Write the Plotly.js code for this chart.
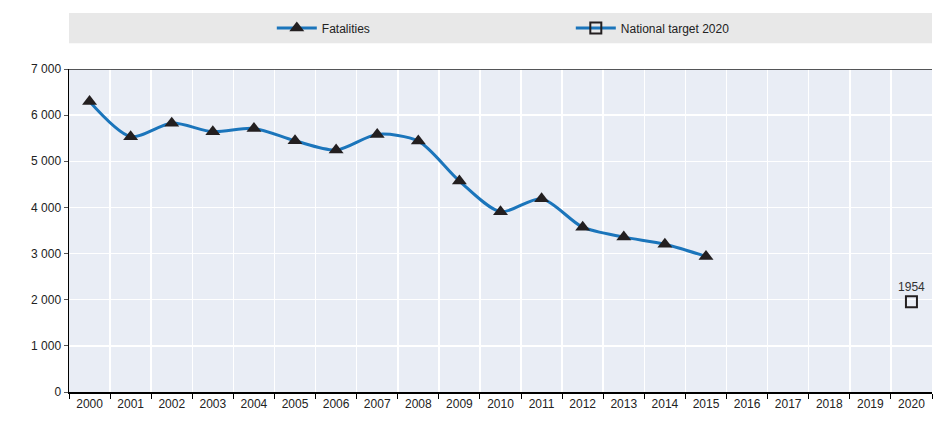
<!DOCTYPE html>
<html>
<head>
<meta charset="utf-8">
<script src="https://cdn.plot.ly/plotly-3.0.1.min.js"></script>
<style>
  body { margin: 0; background: #fff; }
  #chart { width: 952px; height: 425px; }
</style>
</head>
<body>
<div id="chart"></div>
<script>
// Road fatalities, 2000-2015, and the 2020 target
var years = ['2000','2001','2002','2003','2004','2005','2006','2007','2008','2009',
             '2010','2011','2012','2013','2014','2015','2016','2017','2018','2019','2020'];
var fatalYears = years.slice(0, 16);
var fatalities = [6294, 5534, 5827, 5640, 5712, 5444, 5243, 5583, 5437, 4572,
                  3907, 4189, 3571, 3357, 3202, 2938];
var targetYears = ['2020'];
var targetValues = [1954];

var font = 'Liberation Sans Narrow, Arial Narrow, Liberation Sans, Arial, sans-serif';

// empty trace so every year shows on the category axis
var allYears = {
  x: years,
  y: years.map(function () { return null; }),
  type: 'scatter', mode: 'markers',
  showlegend: false, hoverinfo: 'skip'
};

var fatal = {
  x: fatalYears,
  y: fatalities,
  name: 'Fatalities',
  type: 'scatter',
  mode: 'lines+markers',
  line: {color: '#1b75bb', width: 3, shape: 'spline', smoothing: 0.8},
  marker: {symbol: 'triangle-up', size: 13, color: '#231f20'},
  cliponaxis: false
};

var target = {
  x: targetYears,
  y: targetValues,
  name: 'National target 2020',
  type: 'scatter',
  mode: 'lines+markers+text',
  text: targetValues.map(String),
  textposition: 'top center',
  textfont: {family: font, size: 12, color: '#333'},
  line: {color: '#1b75bb', width: 3},
  marker: {symbol: 'square-open', size: 11, color: '#231f20', line: {width: 2}}
};

var layout = {
  width: 952, height: 425,
  margin: {l: 69, r: 20, t: 69, b: 33},
  paper_bgcolor: '#ffffff',
  plot_bgcolor: '#e9edf5',
  separators: ', ',
  font: {family: font, size: 12, color: '#222'},
  showlegend: true,
  legend: {
    orientation: 'h', x: 0.235, xanchor: 'left', y: 1.127, yanchor: 'middle',
    bgcolor: 'rgba(0,0,0,0)', entrywidth: 244, entrywidthmode: 'pixels',
    font: {family: font, size: 12, color: '#222'}, itemwidth: 40
  },
  xaxis: {
    type: 'category', range: [-0.5, 20.5],
    categoryorder: 'array', categoryarray: years,
    tickson: 'boundaries', ticks: 'outside', ticklen: 5, tickcolor: '#000',
    showgrid: true, gridcolor: '#ffffff', gridwidth: 1.5,
    showline: true, linecolor: '#000', linewidth: 2,
    tickfont: {family: font, size: 12, color: '#222'},
    fixedrange: true
  },
  yaxis: {
    range: [0, 7000], dtick: 1000, tickformat: ',d',
    showgrid: true, gridcolor: '#ffffff', gridwidth: 1.5,
    showline: true, linecolor: '#000', linewidth: 1.5,
    ticks: 'outside', ticklen: 4, tickcolor: '#555',
    zeroline: false,
    tickfont: {family: font, size: 12, color: '#222'},
    fixedrange: true
  },
  shapes: [
    {type: 'rect', xref: 'paper', yref: 'paper', x0: 0, x1: 1, y0: 1.080, y1: 1.173,
     fillcolor: '#e8e8e8', line: {width: 0}, layer: 'below'},
    {type: 'line', xref: 'paper', yref: 'y', x0: 0, x1: 1, y0: 7000, y1: 7000,
     line: {color: '#222', width: 1.5}}
  ]
};

Plotly.newPlot('chart', [allYears, fatal, target], layout, {displayModeBar: false, staticPlot: true});
</script>
</body>
</html>
